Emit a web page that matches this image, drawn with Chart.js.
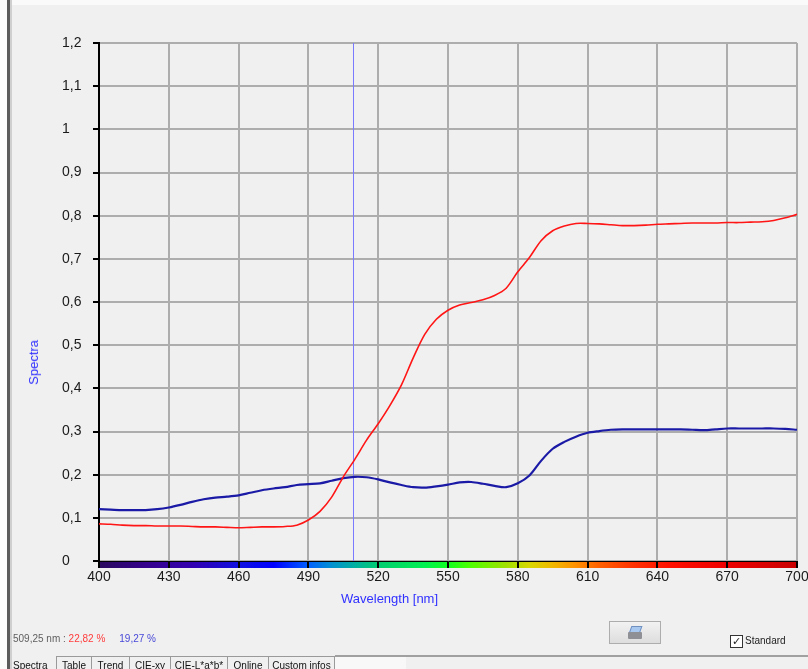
<!DOCTYPE html>
<html>
<head>
<meta charset="utf-8">
<script src="https://cdn.jsdelivr.net/npm/chart.js@4.4.1/dist/chart.umd.min.js"></script>
<style>
  html, body { margin: 0; padding: 0; }
  body { width: 808px; height: 669px; overflow: hidden; background: #f0f0f0; position: relative;
         font-family: "Liberation Sans", Arial, sans-serif; }
  #chart { position: absolute; left: 0; top: 0; }
  .abs { position: absolute; white-space: nowrap; }
  #topstrip { left: 0; top: 0; width: 808px; height: 5px; background: #fafafa; }
  #leftedge { left: 0; top: 0; width: 7px; height: 669px; background: #fbfbfb; }
  #leftline { left: 7px; top: 0; width: 3px; height: 669px; background: #5a5a5a; border-right: 2px solid #cfcfcf; }
  #ytitle { left: 26px; top: 340px; color: #3030ff; font-size: 13px; writing-mode: vertical-rl; transform: rotate(180deg); }
  #xtitle { left: 341px; top: 591px; color: #3030ff; font-size: 13px; }
  #status { left: 13px; top: 633px; font-size: 10px; color: #606060; }
  #status .r { color: #ff3b3b; }
  #status .b { color: #4848d8; margin-left: 14px; }
  #btn { left: 609px; top: 621px; width: 50px; height: 21px; border: 1px solid #adadad;
         background: linear-gradient(#f2f2f2, #dddddd); }
  #btn .paper { position: absolute; left: 20px; top: 4px; width: 9px; height: 6px; background: #a9c8f0; border: 1px solid #7090c0; transform: skewX(-20deg); }
  #btn .body { position: absolute; left: 18px; top: 10px; width: 14px; height: 7px; background: #8f9096; border-radius: 1px; }
  #chk { left: 730px; top: 635px; width: 11px; height: 11px; border: 1px solid #333; background: #fff;
         font-size: 11px; line-height: 11px; text-align: center; color: #222; }
  #std { left: 745px; top: 635px; font-size: 10px; color: #222; }
  #tabline { left: 335px; top: 655px; width: 473px; height: 2px; background: #a0a0a0; }
  #tabfill { left: 335px; top: 657px; width: 71px; height: 12px; background: #f8f8f8; }
  .tab { top: 656px; height: 13px; font-size: 10px; color: #111; border-top: 1px solid #9a9a9a;
         border-left: 1px solid #9a9a9a; background: #f0f0f0; padding-top: 3px; box-sizing: border-box; text-align: center; }
  #tabsel { left: 13px; top: 660px; font-size: 10px; color: #111; }
</style>
</head>
<body>
<div class="abs" id="topstrip"></div>
<div class="abs" id="leftedge"></div>
<div class="abs" id="leftline"></div>
<canvas id="chart" width="830" height="669"></canvas>
<div class="abs" id="ytitle">Spectra</div>
<div class="abs" id="xtitle">Wavelength [nm]</div>
<div class="abs" id="status">509,25 nm : <span class="r">22,82 %</span><span class="b">19,27 %</span></div>
<div class="abs" id="btn"><div class="paper"></div><div class="body"></div></div>
<div class="abs" id="chk">&#10003;</div>
<div class="abs" id="std">Standard</div>
<div class="abs" id="tabline"></div>
<div class="abs" id="tabfill"></div>
<div class="abs" id="tabsel">Spectra</div>
<div class="abs tab" style="left:56px;width:35px">Table</div>
<div class="abs tab" style="left:91px;width:38px">Trend</div>
<div class="abs tab" style="left:129px;width:41px">CIE-xy</div>
<div class="abs tab" style="left:170px;width:57px">CIE-L*a*b*</div>
<div class="abs tab" style="left:227px;width:41px">Online</div>
<div class="abs tab" style="left:268px;width:67px;border-right:1px solid #9a9a9a">Custom infos</div>
<script>
// wavelengths in nm, every 5 nm
const wavelengths = [
  400, 405, 410, 415, 420, 425, 430, 435, 440, 445, 450, 455, 460, 465, 470, 475, 480, 485, 490, 495,
  500, 505, 510, 515, 520, 525, 530, 535, 540, 545, 550, 555, 560, 565, 570, 575, 580, 585, 590, 595,
  600, 605, 610, 615, 620, 625, 630, 635, 640, 645, 650, 655, 660, 665, 670, 675, 680, 685, 690, 695, 700
];

// red curve (sample)
const redValues = [
  0.086, 0.085, 0.083, 0.082, 0.082, 0.081, 0.081, 0.081, 0.080, 0.079, 0.079, 0.078, 0.077, 0.078, 0.079, 0.079, 0.080, 0.083, 0.095, 0.115,
  0.148, 0.195, 0.236, 0.280, 0.318, 0.360, 0.408, 0.470, 0.525, 0.560, 0.581, 0.593, 0.599, 0.605, 0.615, 0.632, 0.670, 0.703, 0.742, 0.765,
  0.776, 0.782, 0.782, 0.781, 0.779, 0.777, 0.777, 0.778, 0.780, 0.781, 0.782, 0.783, 0.783, 0.783, 0.784, 0.784, 0.785, 0.786, 0.789, 0.795, 0.803
];

// blue curve (standard)
const blueValues = [
  0.120, 0.119, 0.118, 0.118, 0.118, 0.120, 0.124, 0.130, 0.137, 0.143, 0.147, 0.149, 0.152, 0.158, 0.164, 0.168, 0.171, 0.176, 0.178, 0.180,
  0.186, 0.192, 0.195, 0.194, 0.189, 0.182, 0.176, 0.171, 0.170, 0.173, 0.177, 0.182, 0.183, 0.179, 0.174, 0.171, 0.180, 0.198, 0.232, 0.260,
  0.276, 0.288, 0.297, 0.301, 0.304, 0.305, 0.305, 0.305, 0.305, 0.305, 0.305, 0.304, 0.303, 0.305, 0.307, 0.307, 0.307, 0.307, 0.307, 0.306, 0.304
];

const xTickValues = [400, 430, 460, 490, 520, 550, 580, 610, 640, 670, 700];
const yTickValues = [0, 0.1, 0.2, 0.3, 0.4, 0.5, 0.6, 0.7, 0.8, 0.9, 1, 1.1, 1.2];
const yTickLabels = ['0', '0,1', '0,2', '0,3', '0,4', '0,5', '0,6', '0,7', '0,8', '0,9', '1', '1,1', '1,2'];

const cursorNm = 509.25;

// colour strip under the plot
const stripStops = [
  [400, '#2a0a5e'], [420, '#34008c'], [440, '#3300b0'], [460, '#1010e0'], [475, '#0000ff'],
  [490, '#0060ff'], [500, '#0090d0'], [510, '#00b0a0'], [520, '#00cc70'], [540, '#00f050'],
  [550, '#10ff20'], [560, '#50ff00'], [575, '#a0e000'], [585, '#d8d800'], [595, '#f0b800'],
  [605, '#ff9000'], [615, '#ff6000'], [630, '#ff3000'], [645, '#ff1000'], [670, '#ee0000'], [700, '#c80000']
];

const extras = {
  id: 'extras',
  beforeDraw(chart) {
    const { ctx, chartArea, scales } = chart;
    const x0 = scales.x.getPixelForValue(400), x1 = scales.x.getPixelForValue(700);
    const g = ctx.createLinearGradient(x0, 0, x1, 0);
    stripStops.forEach(([nm, c]) => g.addColorStop((nm - 400) / 300, c));
    ctx.save();
    ctx.fillStyle = g;
    ctx.fillRect(x0, chartArea.bottom, x1 - x0, 7);
    ctx.restore();
  },
  beforeDatasetsDraw(chart) {
    const { ctx, chartArea, scales } = chart;
    const cx = Math.round(scales.x.getPixelForValue(cursorNm));
    ctx.save();
    ctx.fillStyle = '#7a7aff';
    ctx.fillRect(cx, chartArea.top, 1, chartArea.bottom - chartArea.top);
    ctx.restore();
  }
};

const ctx = document.getElementById('chart').getContext('2d');
new Chart(ctx, {
  type: 'line',
  data: {
    labels: wavelengths,
    datasets: [
      {
        label: 'Sample',
        data: wavelengths.map((w, i) => ({ x: w, y: redValues[i] })),
        borderColor: '#ff1515',
        borderWidth: 1.6,
        pointRadius: 0,
        tension: 0.3
      },
      {
        label: 'Standard',
        data: wavelengths.map((w, i) => ({ x: w, y: blueValues[i] })),
        borderColor: '#1a1aa6',
        borderWidth: 2.2,
        pointRadius: 0,
        tension: 0.3
      }
    ]
  },
  options: {
    responsive: false,
    animation: false,
    layout: { padding: { left: 62, top: 43, right: 33, bottom: 88 } },
    plugins: { legend: { display: false }, tooltip: { enabled: false } },
    scales: {
      x: {
        type: 'linear',
        min: 400,
        max: 700,
        afterBuildTicks: s => { s.ticks = xTickValues.map(v => ({ value: v })); },
        afterFit: s => { s.height = 20; },
        grid: { color: '#adadad', lineWidth: 2, tickColor: '#000', tickLength: 7 },
        border: { color: '#000', width: 1 },
        ticks: { color: '#1a1a1a', font: { family: 'Liberation Sans', size: 14 }, padding: 1, maxRotation: 0 }
      },
      y: {
        min: 0,
        max: 1.2,
        afterBuildTicks: s => { s.ticks = yTickValues.map(v => ({ value: v })); },
        afterFit: s => { s.width = 37; },
        grid: { color: '#adadad', lineWidth: 2, tickColor: '#000', tickLength: 6 },
        border: { color: '#000', width: 2 },
        ticks: {
          color: '#1a1a1a',
          font: { family: 'Liberation Sans', size: 14 },
          crossAlign: 'far',
          callback: (v, i) => yTickLabels[i]
        }
      }
    }
  },
  plugins: [extras]
});
</script>
</body>
</html>
